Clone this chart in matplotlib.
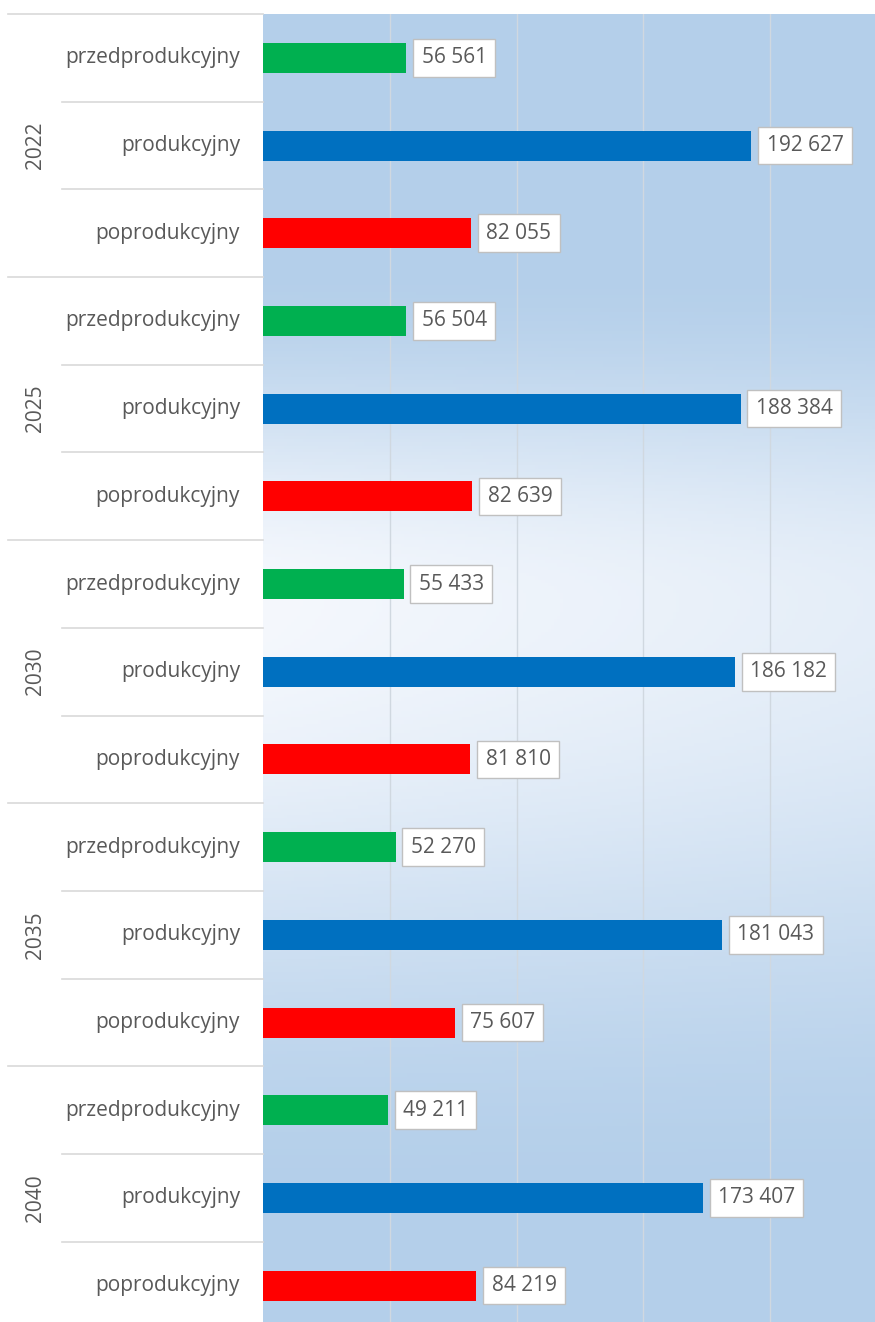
import numpy as np
import matplotlib
matplotlib.use("Agg")
import matplotlib.pyplot as plt
from matplotlib.colors import to_rgb
import matplotlib.transforms as mtransforms

years = ['2022', '2025', '2030', '2035', '2040']
categories = ['przedprodukcyjny', 'produkcyjny', 'poprodukcyjny']
pre_values = [56561, 56504, 55433, 52270, 49211]
prod_values = [192627, 188384, 186182, 181043, 173407]
post_values = [82055, 82639, 81810, 75607, 84219]
series = [pre_values, prod_values, post_values]
colors = ['#00b050', '#0070c0', '#ff0000']
gridlines = [50000, 100000, 150000, 200000]

plt.rcParams['font.family'] = ['Open Sans', 'DejaVu Sans']
TXT = '#595959'
FS = 15

W, H = 875, 1322
fig = plt.figure(figsize=(W / 100, H / 100), dpi=100)
fig.patch.set_facecolor('white')
ax_left = 263 / W
ax_top = 14 / H
ax = fig.add_axes([ax_left, 0, 1 - ax_left, 1 - ax_top])

slot_px = 87.7
n_slots = (H - 14) / slot_px
ax.set_ylim(-0.5 + n_slots, -0.5)
ax.set_xlim(0, 612 / 0.002535)

# background gradient
hh, ww = 400, 200
f = np.linspace(0, 1, hh)[:, None]
xf = np.linspace(0, 1, ww)[None, :]
c = 0.448
up = np.clip(1 - (c - f) / 0.26, 0, 1)
down = np.clip(1 - (f - c) / 0.47, 0, 1)
w = np.where(f < c, up, down)
w = w * w * (3 - 2 * w)
w = w * (1 - 0.25 * xf)
blue = np.array(to_rgb('#b4cfea'))
white = np.array(to_rgb('#f5f8fd'))
img = blue[None, None, :] * (1 - w[..., None]) + white[None, None, :] * w[..., None]
ax.imshow(img, extent=[0, 1, 0, 1], transform=ax.transAxes, aspect='auto', zorder=0)

for g in gridlines:
    ax.axvline(g, color='#d0d8e0', lw=1, zorder=1)

bar_h = 30 / slot_px
for gi, yr in enumerate(years):
    for ci, cat in enumerate(categories):
        pos = gi * 3 + ci
        val = series[ci][gi]
        ax.barh(pos, val, height=bar_h, color=colors[ci], zorder=2)
        lab = f"{val:,}".replace(',', ' ')
        ax.annotate(lab, xy=(val, pos), xytext=(11, 0), textcoords='offset points',
                    ha='left', va='center', fontsize=FS, color=TXT, zorder=3,
                    bbox=dict(boxstyle='square,pad=0.4', fc='white', ec='#c0c0c0', lw=1))

ax.set_xticks([])
ax.set_yticks([])
for s in ax.spines.values():
    s.set_visible(False)

trans = mtransforms.blended_transform_factory(ax.transAxes, ax.transData)
x_grp = (8 - 263) / 612
x_cat = (62 - 263) / 612
for gi in range(len(years) + 1):
    yb = gi * 3 - 0.5
    ax.plot([x_grp, 0], [yb, yb], color='#d9d9d9', lw=1.2, transform=trans, clip_on=False)
    if gi < len(years):
        for k in (1, 2):
            ys = gi * 3 - 0.5 + k
            ax.plot([x_cat, 0], [ys, ys], color='#d9d9d9', lw=1.2, transform=trans, clip_on=False)

x_lab = (240 - 263) / 612
x_year = (35 - 263) / 612
for gi, yr in enumerate(years):
    for ci, cat in enumerate(categories):
        ax.text(x_lab, gi * 3 + ci, cat, transform=trans, ha='right', va='center',
                fontsize=FS, color=TXT)
    ax.text(x_year, gi * 3 + 1, yr, transform=trans, ha='center', va='center',
            rotation=90, fontsize=FS, color=TXT)

fig.savefig('out.png', dpi=100)
